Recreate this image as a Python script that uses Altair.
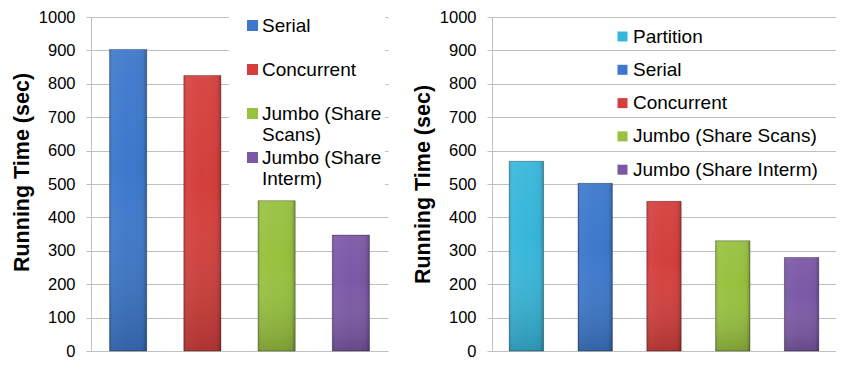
import altair as alt
import pandas as pd

# ---- data ----
left_methods = ["Serial", "Concurrent", "Jumbo (Share Scans)", "Jumbo (Share Interm)"]
left_times = [903, 825, 450, 347]

right_methods = ["Partition", "Serial", "Concurrent", "Jumbo (Share Scans)", "Jumbo (Share Interm)"]
right_times = [568, 502, 448, 330, 280]

method_colors = {
    "Partition": "#36b6da",
    "Serial": "#3c78cc",
    "Concurrent": "#d43e3b",
    "Jumbo (Share Scans)": "#97c13e",
    "Jumbo (Share Interm)": "#7b58a6",
}
y_ticks = [0, 100, 200, 300, 400, 500, 600, 700, 800, 900, 1000]

FONT = "Liberation Sans"
GRID = "#c0c0c0"

vert_shade = alt.Gradient(
    gradient="linear", x1=0, y1=0, x2=0, y2=1,
    stops=[
        alt.GradientStop(offset=0, color="rgba(255,255,255,0.05)"),
        alt.GradientStop(offset=0.4, color="rgba(255,255,255,0)"),
        alt.GradientStop(offset=1, color="rgba(0,0,0,0.18)"),
    ],
)
horiz_shade = alt.Gradient(
    gradient="linear", x1=0, y1=0, x2=1, y2=0,
    stops=[
        alt.GradientStop(offset=0, color="rgba(0,0,0,0.12)"),
        alt.GradientStop(offset=0.1, color="rgba(255,255,255,0.04)"),
        alt.GradientStop(offset=0.5, color="rgba(255,255,255,0)"),
        alt.GradientStop(offset=0.9, color="rgba(0,0,0,0.04)"),
        alt.GradientStop(offset=1, color="rgba(0,0,0,0.25)"),
    ],
)

# every left-legend label takes two lines so that rows are evenly spaced
wrap_expr = ("length(datum.label) > 12 ? "
             "[substring(datum.label, 0, 12), substring(datum.label, 13)] : [datum.label, ' ']")


def panel(methods, times, width, legend, title_y=None):
    df = pd.DataFrame({"method": methods, "time": times})
    x = alt.X("method:N", sort=methods, axis=None,
              scale=alt.Scale(paddingInner=0.5, paddingOuter=0.25))
    axis_kw = dict(
        values=y_ticks, format="d", title="Running Time (sec)",
        titleFont=FONT, titleFontSize=21.5, titleFontWeight="bold", titleColor="#000000",
        titlePadding=5,
        labelFont=FONT, labelFontSize=16.5, labelColor="#000000", labelPadding=11,
        domainColor=GRID, tickColor=GRID, tickSize=5, gridColor=GRID, grid=True,
    )
    if title_y is not None:
        axis_kw["titleY"] = title_y
    y = alt.Y("time:Q", scale=alt.Scale(domain=[0, 1000], nice=False),
              axis=alt.Axis(**axis_kw))
    bars = alt.Chart(df).mark_bar().encode(
        x=x, y=y,
        color=alt.Color("method:N",
                        scale=alt.Scale(domain=methods,
                                        range=[method_colors[m] for m in methods]),
                        legend=legend),
    )
    shade1 = alt.Chart(df).mark_bar(color=horiz_shade).encode(x=x, y=y)
    shade2 = alt.Chart(df).mark_bar(color=vert_shade, stroke="rgba(0,0,0,0.3)",
                                    strokeWidth=1).encode(x=x, y=y)
    return alt.layer(bars, shade1, shade2).properties(width=width, height=334)


left_legend = alt.Legend(
    title=None, orient="none", legendX=138, legendY=-4,
    fillColor="white", padding=3, symbolOffset=11, zindex=5,
    symbolType="square", symbolSize=121, symbolStrokeWidth=0,
    labelFont=FONT, labelFontSize=19, labelColor="#000000", labelLimit=300,
    labelExpr=wrap_expr, rowPadding=3, labelOffset=0,
)
right_legend = alt.Legend(
    title=None, orient="none", legendX=121, legendY=10, zindex=5,
    padding=0, symbolType="square", symbolSize=100, symbolStrokeWidth=0,
    labelFont=FONT, labelFontSize=19, labelColor="#000000", labelLimit=300,
    rowPadding=13.3, labelOffset=1,
)

left = panel(left_methods, left_times, 297, left_legend, title_y=155)
right = panel(right_methods, right_times, 344, right_legend)

chart = alt.hconcat(left, right, spacing=24).resolve_scale(
    color="independent", x="independent", y="independent"
).properties(
    padding={"left": 3, "top": 1, "right": 0, "bottom": 0}
).configure_view(stroke=None)

chart.save("out.html", embed_options={"renderer": "svg", "actions": False})
